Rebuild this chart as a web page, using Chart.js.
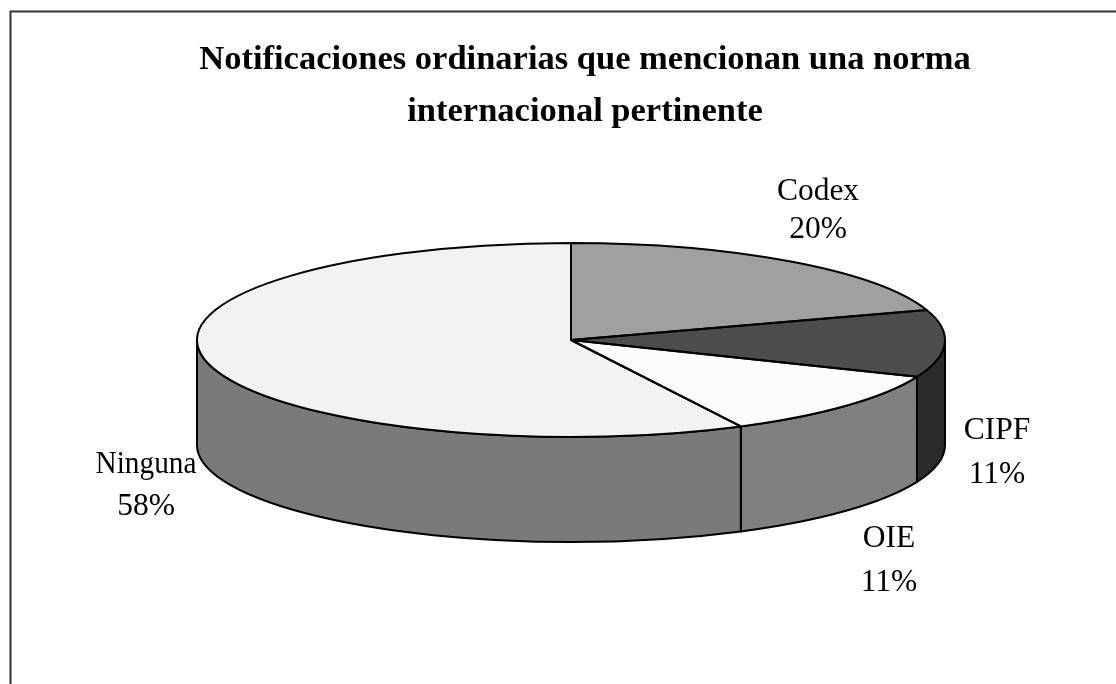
<!DOCTYPE html>
<html><head><meta charset="utf-8">
<style>html,body{margin:0;padding:0;background:#fff}canvas{display:block}</style>
<script src="https://cdn.jsdelivr.net/npm/chart.js@4"></script>
</head><body><canvas id="c" width="1116" height="684"></canvas>
<script>
const categories = ['Codex', 'CIPF', 'OIE', 'Ninguna'];
const shares = [20, 11.2, 11.3, 57.5];
const topColors = ['#a0a0a0', '#4d4d4d', '#fcfcfc', '#f2f2f2'];
const sideColors = ['#7a7a7a', '#2b2b2b', '#808080', '#7a7a7a'];
const titleLines = ['Notificaciones ordinarias que mencionan una norma', 'internacional pertinente'];

const CX = 571, CY = 340, RX = 374, RY = 97, DEPTH = 105;
const labelAnchors = [[818, 200, 238], [997, 439, 483], [889, 547, 591], [146, 473, 515]];
const LABEL_MAX_WIDTH = 101;
const K = RY / RX;

function ellipsePath(ctx, a0, a1, dy, ccw) {
  ctx.ellipse(CX, CY + dy, RX, RY, 0, a0, a1, !!ccw);
}
const pie3d = {
  id: 'pie3d',
  beforeDraw(chart) {
    const ctx = chart.ctx;
    ctx.save();
    ctx.fillStyle = '#fff';
    ctx.fillRect(0, 0, chart.width, chart.height);
    ctx.strokeStyle = '#333';
    ctx.lineWidth = 2;
    ctx.beginPath();
    ctx.moveTo(10.5, 684);
    ctx.lineTo(10.5, 11.5);
    ctx.lineTo(1116, 11.5);
    ctx.stroke();
    ctx.restore();
  },
  beforeDatasetsDraw(chart) {
    const ctx = chart.ctx;
    const arcs = chart.getDatasetMeta(0).data;
    ctx.save();
    ctx.strokeStyle = '#000';
    ctx.lineWidth = 2;
    ctx.lineJoin = 'round';
    arcs.forEach((arc, i) => {
      // only the front half of the disc (0..PI, canvas angles) shows a wall
      const a0 = Math.max(arc.startAngle, 0), a1 = Math.min(arc.endAngle, Math.PI);
      if (a1 <= a0) return;
      ctx.beginPath();
      ellipsePath(ctx, a0, a1, 0, false);
      ellipsePath(ctx, a1, a0, DEPTH, true);
      ctx.closePath();
      ctx.fillStyle = sideColors[i];
      ctx.fill();
      ctx.stroke();
    });
    ctx.restore();
    // squash the disc the library draws into the pie's top ellipse
    const first = arcs[0];
    ctx.save();
    ctx.translate(CX, CY);
    ctx.scale(1, K);
    ctx.translate(-first.x, -first.y);
  },
  afterDatasetsDraw(chart) {
    const ctx = chart.ctx;
    ctx.restore();
    const arcs = chart.getDatasetMeta(0).data;
    ctx.save();
    ctx.strokeStyle = '#000';
    ctx.lineWidth = 2;
    ctx.lineJoin = 'round';
    arcs.forEach(arc => {
      ctx.beginPath();
      ctx.moveTo(CX, CY);
      ellipsePath(ctx, arc.startAngle, arc.endAngle, 0, false);
      ctx.closePath();
      ctx.stroke();
    });
    ctx.fillStyle = '#000';
    ctx.font = '31.5px "Liberation Serif"';
    ctx.textAlign = 'center';
    ctx.textBaseline = 'alphabetic';
    categories.forEach((name, i) => {
      const [x, y1, y2] = labelAnchors[i];
      ctx.fillText(name, x, y1, LABEL_MAX_WIDTH);
      ctx.fillText(Math.round(shares[i]) + '%', x, y2);
    });
    ctx.restore();
  }
};

new Chart(document.getElementById('c'), {
  type: 'pie',
  data: {
    labels: categories,
    datasets: [{
      data: shares,
      backgroundColor: topColors,
      borderWidth: 0,
      clip: false
    }]
  },
  plugins: [pie3d],
  options: {
    responsive: false,
    animation: false,
    radius: RX,
    layout: { padding: { left: 54, top: 24 } },
    plugins: {
      legend: { display: false },
      tooltip: { enabled: false },
      title: {
        display: true,
        text: titleLines,
        color: '#000',
        font: { family: '"Liberation Serif"', size: 34.5, weight: 'bold', lineHeight: 1.5 }
      }
    }
  }
});
</script></body></html>
